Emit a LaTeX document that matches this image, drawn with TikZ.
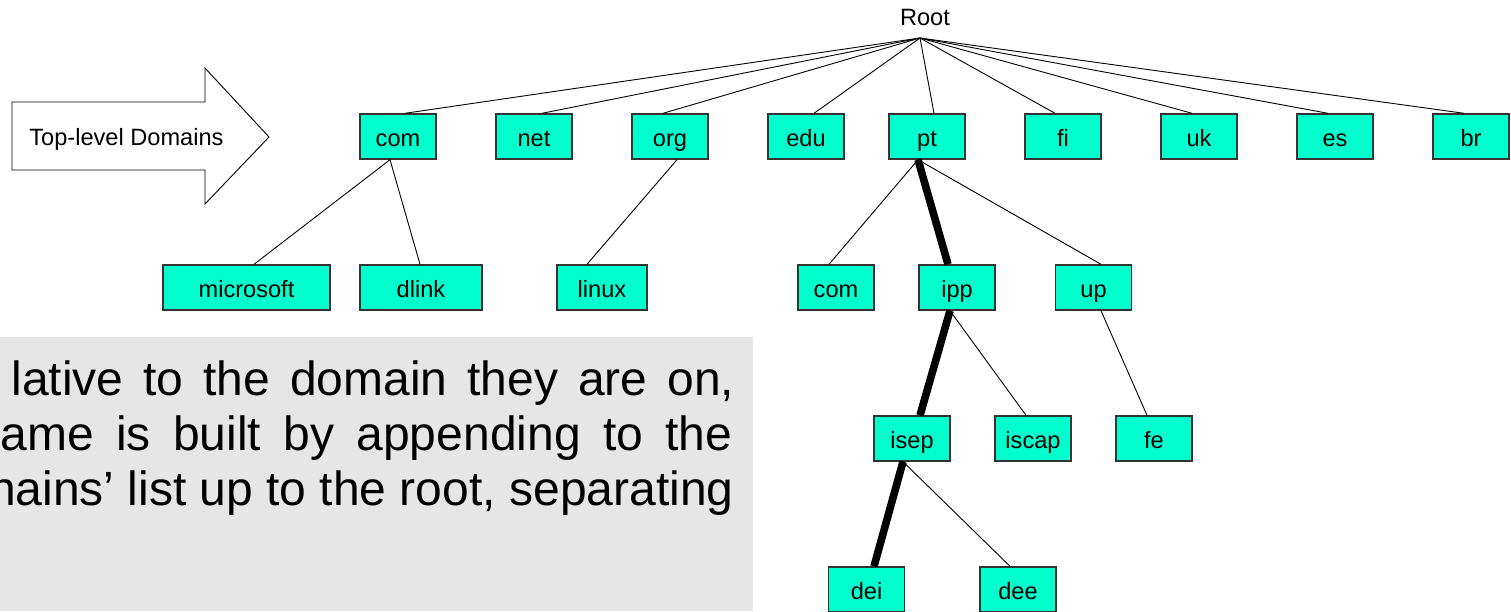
\documentclass[tikz,border=0pt]{standalone}
\usepackage{fontspec}
\setmainfont{Liberation Sans}
\usetikzlibrary{calc}
\definecolor{boxfill}{HTML}{00FFCC}
\definecolor{boxline}{HTML}{333333}
\definecolor{panel}{HTML}{E6E6E6}
\tikzset{
  dom/.style={draw=boxline, fill=boxfill, line width=0.7pt, minimum height=22.5pt, minimum width=38pt, inner sep=0pt, text height=10pt, text depth=0pt, font=\fontsize{11.8}{14}\selectfont},
  link/.style={line width=0.45pt},
  path/.style={line width=3.8pt},
  para/.style={anchor=base west, inner sep=0pt, font=\fontsize{24}{28}\selectfont}
}
\begin{document}
\begin{tikzpicture}[x=0.5pt,y=-0.5pt]
\useasboundingbox (0,0) rectangle (1511,611);
% gray panel
\fill[panel] (0,337) rectangle (753,611);
\node[para] (l1) at (11,395) {\makebox[361.5pt][s]{lative to the domain they are on,}};
\node[para] (l2) at (0,450) {\makebox[366pt][s]{ame is built by appending to the}};
\node[para, anchor=base east] (l3) at (734,505) {nains’ list up to the root, separating};
% arrow
\draw[fill=white, line width=0.45pt] (12,102) -- (205,102) -- (205,68) -- (269,137) -- (205,204) -- (205,170) -- (12,170) -- cycle;
\node[anchor=base west, inner sep=0pt, font=\fontsize{11.8}{14}\selectfont] (tld) at (29,145) {Top-level Domains};
% root
\node[anchor=base, inner sep=0pt, font=\fontsize{11.8}{14}\selectfont] (root) at (925,25) {Root};
\coordinate (apex) at (920,38);
% top level
\node[dom] (com) at (398,136.5) {com};
\node[dom] (net) at (534,136.5) {net};
\node[dom] (org) at (670,136.5) {org};
\node[dom] (edu) at (806,136.5) {edu};
\node[dom] (pt) at (927,136.5) {pt};
\node[dom] (fi) at (1063,136.5) {fi};
\node[dom] (uk) at (1199,136.5) {uk};
\node[dom] (es) at (1335,136.5) {es};
\node[dom] (br) at (1471,136.5) {br};
% level 2
\node[dom, minimum width=83.5pt] (microsoft) at (246.5,287.5) {microsoft};
\node[dom, minimum width=61pt] (dlink) at (421,287.5) {dlink};
\node[dom, minimum width=45pt] (linux) at (602,287.5) {linux};
\node[dom] (com2) at (836,287.5) {com};
\node[dom] (ipp) at (957,287.5) {ipp};
\node[dom] (up) at (1093.5,287.5) {up};
% level 3
\node[dom] (isep) at (912,438.5) {isep};
\node[dom] (iscap) at (1033,438.5) {iscap};
\node[dom] (fe) at (1154,438.5) {fe};
% level 4
\node[dom] (dei) at (866.5,589.5) {dei};
\node[dom] (dee) at (1018,589.5) {dee};
% root links
\draw[link] (apex) -- ($(com.north)+(7,0)$);
\draw[link] (apex) -- ($(net.north)+(8,0)$);
\draw[link] (apex) -- ($(org.north)+(-7,0)$);
\draw[link] (apex) -- ($(edu.north)+(8,0)$);
\draw[link] (apex) -- ($(pt.north)+(7,0)$);
\draw[link] (apex) -- ($(fi.north)+(-8,0)$);
\draw[link] (apex) -- ($(uk.north)+(-7,0)$);
\draw[link] (apex) -- ($(es.north)+(-7,0)$);
\draw[link] (apex) -- ($(br.north)+(-7,0)$);
% lower links
\draw[link] ($(com.south)+(-8,0)$) -- ($(microsoft.north)+(7.5,0)$);
\draw[link] ($(com.south)+(-8,0)$) -- ($(dlink.north)+(-1,0)$);
\draw[link] ($(org.south)+(7,0)$) -- ($(linux.north)+(-15,0)$);
\draw[link] ($(pt.south)+(-9,0)$) -- ($(com2.north)+(-7,0)$);
\draw[path] ($(pt.south)+(-9,0)$) -- ($(ipp.north)+(-9,0)$);
\draw[link] ($(pt.south)+(-9,0)$) -- ($(up.north)+(7.5,0)$);
\draw[path] ($(ipp.south)+(-7,0)$) -- ($(isep.north)+(8,0)$);
\draw[link] ($(ipp.south)+(-7,0)$) -- ($(iscap.north)+(-7,0)$);
\draw[link] ($(up.south)+(7.5,0)$) -- ($(fe.north)+(-7,0)$);
\draw[path] ($(isep.south)+(-9,0)$) -- ($(dei.north)+(7.5,0)$);
\draw[link] ($(isep.south)+(-9,0)$) -- ($(dee.north)+(-8,0)$);
\end{tikzpicture}
\end{document}
